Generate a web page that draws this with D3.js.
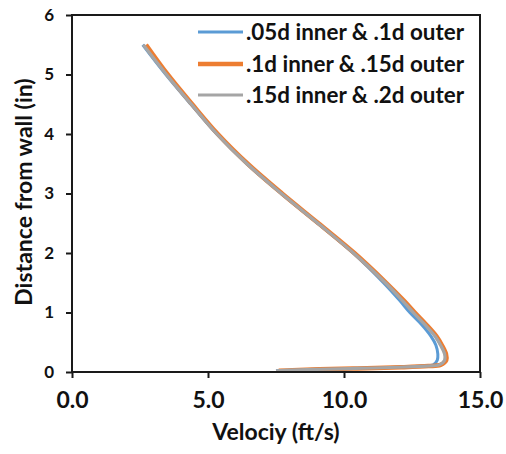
<!DOCTYPE html>
<html><head><meta charset="utf-8">
<script src="https://cdn.jsdelivr.net/npm/d3@7"></script>
<style>
html,body{margin:0;padding:0;background:#fff;}
text{font-family:"Lato","Open Sans",sans-serif;font-weight:bold;fill:#111;}
</style></head>
<body><svg id="chart" width="506" height="454"></svg>
<script>
// distance from wall (in)
const distance = [5.5, 5.0, 4.5, 4.0, 3.5, 3.0, 2.5, 2.0, 1.5, 1.2, 1.0, 0.8, 0.6, 0.45, 0.3, 0.2, 0.12, 0.1, 0.08, 0.06, 0.045, 0.03, 0.02];
// velocity (ft/s) per series
const vBlue   = [2.6, 3.45, 4.37, 5.32, 6.42, 7.69, 9.03, 10.33, 11.45, 12.05, 12.42, 12.85, 13.2, 13.38, 13.45, 13.43, 13.28, 12.9, 12.0, 10.4, 9.0, 8.0, 7.5];
const vOrange = [2.72, 3.52, 4.42, 5.36, 6.46, 7.72, 9.06, 10.38, 11.55, 12.2, 12.6, 13.02, 13.4, 13.6, 13.75, 13.76, 13.55, 13.1, 12.1, 10.5, 9.1, 8.1, 7.6];
const vGray   = [2.62, 3.47, 4.39, 5.33, 6.43, 7.7, 9.04, 10.35, 11.52, 12.15, 12.55, 12.97, 13.35, 13.55, 13.7, 13.7, 13.5, 13.0, 12.0, 10.4, 9.0, 8.0, 7.5];
const seriesNames = [".05d inner & .1d outer", ".1d inner & .15d outer", ".15d inner & .2d outer"];
const seriesColors = ["#5B9BD5", "#ED7D31", "#A5A5A5"];
const xTicks = [0, 5, 10, 15];
const yTicks = [0, 1, 2, 3, 4, 5, 6];
const xTitle = "Velociy (ft/s)";
const yTitle = "Distance from wall (in)";

const svg = d3.select("#chart");
const L = 72, R = 480, T = 15, B = 372;
const x = d3.scaleLinear().domain([0, 15]).range([L, R]);
const y = d3.scaleLinear().domain([0, 6]).range([B, T]);

const series = [vBlue, vOrange, vGray].map((v, i) => ({
  name: seriesNames[i], color: seriesColors[i],
  width: [3, 4.5, 3.2][i],
  pts: v.map((vv, j) => [vv, distance[j]])
}));

const line = d3.line().x(d => x(d[0])).y(d => y(d[1])).curve(d3.curveCatmullRom.alpha(0.5));

svg.append("g").selectAll("path").data(series).join("path")
  .attr("d", d => line(d.pts)).attr("fill", "none")
  .attr("stroke", d => d.color).attr("stroke-width", d => d.width)
  .attr("stroke-linejoin", "round");

// frame
svg.append("rect").attr("x", L).attr("y", T).attr("width", R - L).attr("height", B - T)
  .attr("fill", "none").attr("stroke", "#1a1a1a").attr("stroke-width", 2);

// axes
const xAxis = svg.append("g").attr("transform", `translate(0,${B})`)
  .call(d3.axisBottom(x).tickValues(xTicks).tickSize(6).tickPadding(14).tickFormat(d3.format(".1f")));
xAxis.select(".domain").remove();
xAxis.selectAll("line").attr("stroke", "#1a1a1a").attr("stroke-width", 2);
xAxis.selectAll("text").attr("font-size", 23).attr("fill", "#111");

const yAxis = svg.append("g").attr("transform", `translate(${L},0)`)
  .call(d3.axisLeft(y).tickValues(yTicks).tickSize(6).tickPadding(12).tickFormat(d3.format("d")));
yAxis.select(".domain").remove();
yAxis.selectAll("line").attr("stroke", "#1a1a1a").attr("stroke-width", 2);
yAxis.selectAll("text").attr("font-size", 17).attr("fill", "#111");
svg.selectAll(".tick text").style("font-family", '"Lato","Open Sans",sans-serif').style("font-weight", "bold");

svg.append("text").attr("x", (L + R) / 2).attr("y", 440).attr("text-anchor", "middle")
  .attr("font-size", 23).text(xTitle);
svg.append("text").attr("transform", `translate(32,192) rotate(-90)`).attr("text-anchor", "middle")
  .attr("font-size", 23).text(yTitle);

// legend
const lg = svg.append("g");
const rows = [32, 64, 95];
series.forEach((s, i) => {
  lg.append("line").attr("x1", 198).attr("x2", 243).attr("y1", rows[i]).attr("y2", rows[i])
    .attr("stroke", s.color).attr("stroke-width", s.width);
  lg.append("text").attr("x", 246).attr("y", rows[i] + 8).attr("font-size", 22)
    .attr("textLength", 218).attr("lengthAdjust", "spacingAndGlyphs").text(s.name);
});
</script></body></html>
